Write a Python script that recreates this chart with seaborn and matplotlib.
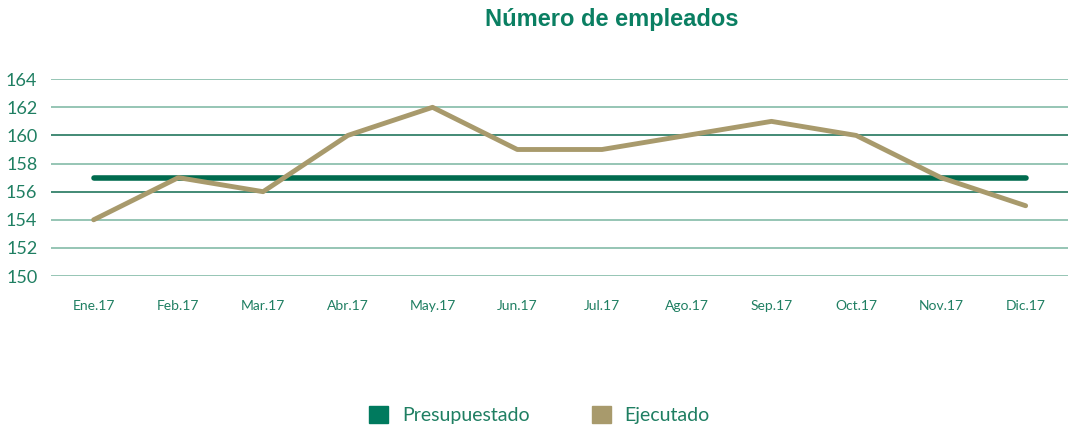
import pandas as pd
import seaborn as sns
import matplotlib.pyplot as plt
from matplotlib.patches import Patch

meses = ['Ene.17', 'Feb.17', 'Mar.17', 'Abr.17', 'May.17', 'Jun.17',
         'Jul.17', 'Ago.17', 'Sep.17', 'Oct.17', 'Nov.17', 'Dic.17']
presupuestado = [157, 157, 157, 157, 157, 157, 157, 157, 157, 157, 157, 157]
ejecutado = [154, 157, 156, 160, 162, 159, 159, 160, 161, 160, 157, 155]
yticks = [150, 152, 154, 156, 158, 160, 162, 164]

verde = '#007a5e'
oro = '#a89a6c'
texto = '#1f7f62'

df = pd.DataFrame({'mes': meses, 'pos': range(len(meses)),
                   'Presupuestado': presupuestado, 'Ejecutado': ejecutado})

sns.set_style('white')
plt.rcParams['font.family'] = ['Lato', 'DejaVu Sans']

fig = plt.figure(figsize=(10.68, 4.28), dpi=100)
ax = fig.add_axes([0.048, 0.355, 0.952, 0.46])

for y in yticks:
    c = '#0f6b4f' if y in (156, 160) else '#79b5a0'
    ax.axhline(y, color=c, lw=1.1, zorder=0)

sns.lineplot(data=df, x='pos', y='Presupuestado', color='#006b4e', lw=4,
             solid_capstyle='round', ax=ax, zorder=3)
sns.lineplot(data=df, x='pos', y='Ejecutado', color=oro, lw=3.5,
             solid_capstyle='round', ax=ax, zorder=4)

ax.set_xlim(-0.5, len(meses) - 0.5)
ax.set_ylim(150, 164)
ax.set_yticks(yticks)
ax.set_yticklabels([str(v) for v in yticks], fontsize=13, color=texto)
ax.set_xticks(range(len(meses)))
ax.set_xticklabels(meses, fontsize=10, color=texto)
ax.tick_params(axis='x', length=0, pad=17)
ax.tick_params(axis='y', length=0, pad=10)
ax.set_xlabel('')
ax.set_ylabel('')
for s in ax.spines.values():
    s.set_visible(False)

fig.text(0.573, 0.955, 'Número de empleados', ha='center', va='center',
         fontsize=17, fontweight='bold', color='#0a7f62',
         family=['Liberation Sans', 'DejaVu Sans'])

handles = [Patch(color=verde, label='Presupuestado'),
           Patch(color=oro, label='Ejecutado')]
leg = fig.legend(handles=handles, loc='center', bbox_to_anchor=(0.505, 0.03),
                 ncol=2, frameon=False, fontsize=14, handlelength=1.0,
                 handleheight=1.0, columnspacing=3.2, handletextpad=0.7)
for t in leg.get_texts():
    t.set_color(texto)

fig.savefig('out.png', dpi=100)
